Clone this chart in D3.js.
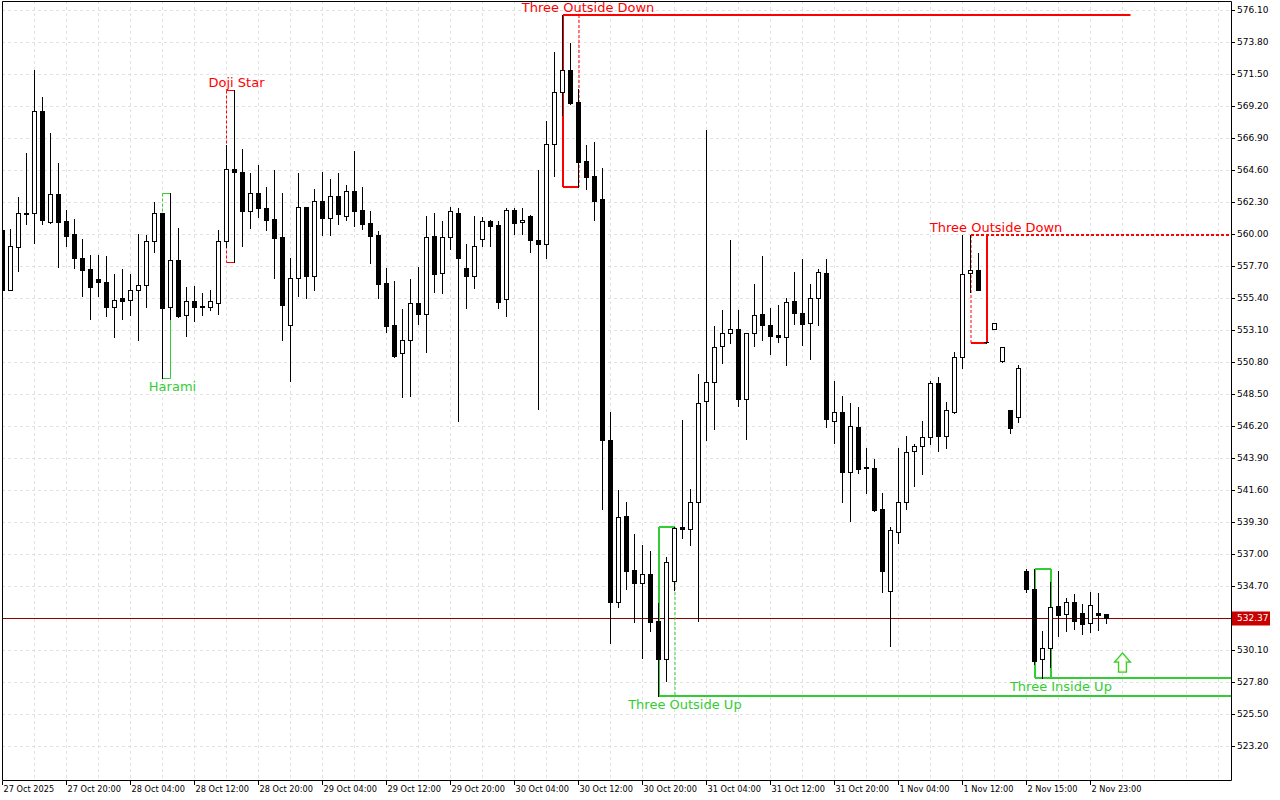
<!DOCTYPE html>
<html><head><meta charset="utf-8">
<script src="https://cdn.jsdelivr.net/npm/d3@7"></script>
<style>
html,body{margin:0;padding:0;background:#fff;}
svg{display:block;}
</style></head>
<body>
<svg id="chart" width="1280" height="800"></svg>
<script>
// ---- DATA ----
const opens = [560.29,555.98,559.09,561.50,561.49,568.84,560.88,562.85,560.93,560.00,
558.25,557.46,556.77,556.53,554.78,555.40,555.24,555.95,556.31,559.48,
561.49,554.78,558.11,554.16,555.16,554.83,554.78,555.06,559.48,564.65,
564.43,561.67,562.93,561.85,561.06,559.78,553.44,556.82,561.92,557.00,
562.35,561.17,562.71,561.27,563.07,561.70,560.77,559.91,556.46,553.44,
551.43,552.36,555.02,554.23,559.83,557.18,559.76,561.49,557.56,557.00,
559.62,560.93,560.63,555.31,561.70,560.84,561.27,559.57,559.25,566.45,
570.19,571.77,569.47,565.25,564.17,562.52,545.19,533.57,539.73,535.85,
534.89,535.54,532.18,529.47,535.08,538.92,538.78,540.72,547.97,549.35,
551.92,552.87,553.16,548.11,552.87,554.23,553.45,552.75,552.58,555.18,
554.31,553.63,555.37,557.23,546.54,547.19,542.86,546.11,543.25,543.16,
540.21,534.36,538.60,540.77,544.37,544.74,545.39,549.28,545.50,547.21,
551.14,557.18,557.41,552.24,553.15,550.89,547.35,546.87,535.80,534.48,
529.43,530.22,533.26,532.67,533.53,532.76,532.02,532.74,532.69];
const highs = [560.43,560.36,562.66,565.80,571.79,569.83,567.24,565.08,561.70,561.08,
559.64,558.49,558.49,558.42,557.13,557.49,557.13,560.00,559.91,562.30,
561.49,562.93,560.41,556.21,556.26,555.74,555.98,560.29,566.40,570.35,
566.09,564.36,564.94,563.40,564.60,562.97,558.28,564.36,561.92,563.21,
564.46,563.95,564.36,563.52,565.97,563.38,561.65,560.22,557.56,556.62,
554.61,556.77,557.63,561.29,561.51,560.93,561.94,561.85,559.28,561.29,
561.22,561.01,560.93,561.85,561.85,561.87,561.34,564.60,568.12,573.10,
575.74,573.75,570.40,566.40,566.59,564.72,547.19,541.60,540.74,538.42,
537.65,537.22,533.46,536.81,538.96,546.63,541.65,549.96,567.48,553.41,
554.54,559.58,554.54,552.87,556.41,558.43,554.70,554.91,555.40,557.27,
558.21,556.41,557.49,558.21,549.44,548.36,547.85,547.57,544.62,543.83,
541.38,538.94,544.60,545.46,544.94,546.54,549.41,549.72,547.90,551.52,
559.93,559.93,558.61,552.24,553.60,551.88,547.35,550.56,535.90,535.92,
531.47,535.01,535.78,533.86,534.13,533.39,534.25,534.18,532.69];
const lows = [555.90,555.95,557.36,560.70,559.33,560.72,560.81,557.65,559.16,557.58,
555.57,553.91,555.57,554.11,552.62,553.91,554.18,552.40,554.78,558.73,
549.63,553.87,554.06,552.69,553.77,554.18,554.54,554.25,559.09,558.01,
559.16,560.45,561.24,560.29,556.87,552.38,549.46,555.57,555.42,556.00,
559.95,559.93,560.74,561.01,560.55,560.34,557.94,555.42,552.98,551.18,
548.31,548.38,553.55,551.50,555.85,555.78,558.94,546.58,554.70,556.14,
559.14,559.14,554.70,554.13,560.00,560.00,558.73,547.40,558.31,564.19,
568.55,569.34,563.38,563.24,561.01,540.23,530.58,533.21,534.46,532.13,
529.55,531.49,526.79,527.89,534.41,538.13,537.65,532.16,545.22,545.95,
550.76,552.17,547.67,545.29,551.97,552.41,551.34,552.27,550.61,553.55,
552.04,551.05,553.43,546.13,545.01,540.71,539.34,542.79,541.36,540.10,
534.24,530.41,537.81,540.20,541.89,542.76,544.94,544.42,544.64,547.11,
550.39,555.85,555.94,552.20,553.14,550.82,545.72,546.47,534.25,529.09,
528.07,528.90,531.13,531.47,531.59,531.27,531.42,531.54,532.06];
const closes = [555.98,559.14,561.49,561.47,568.84,561.01,562.85,560.88,559.88,558.30,
557.43,556.21,556.53,554.78,555.24,555.21,555.95,556.31,559.48,561.49,
554.70,558.11,554.11,555.16,554.78,554.78,555.16,559.48,564.65,564.43,
561.67,562.93,561.85,561.03,559.73,554.92,556.82,561.92,557.00,562.35,
561.17,562.71,561.46,563.07,561.67,560.74,559.88,556.43,553.41,551.23,
552.36,555.02,554.23,559.76,557.15,559.76,561.63,558.30,557.00,559.12,
560.91,560.60,555.13,561.70,560.81,561.01,559.59,559.25,566.45,570.19,
571.77,569.44,565.20,564.12,562.39,545.19,533.57,539.68,535.80,534.89,
535.54,532.13,529.47,536.45,538.85,538.78,540.72,547.84,549.35,551.91,
552.87,553.16,548.11,552.87,554.16,553.45,552.70,552.58,555.11,554.35,
553.55,555.37,557.24,546.70,547.19,542.86,546.19,543.09,543.16,540.19,
535.80,538.69,540.77,544.31,544.74,545.39,549.28,545.50,547.33,551.14,
557.10,557.39,555.98,552.22,553.58,551.86,546.03,550.35,534.46,529.31,
530.22,533.17,532.62,533.53,532.21,531.99,533.31,532.64,532.37];

const priceTicks = [523.20,525.50,527.80,530.10,532.40,534.70,537.00,539.30,541.60,543.90,546.20,548.50,
550.80,553.10,555.40,557.70,560.00,562.30,564.60,566.90,569.20,571.50,573.80,576.10];
const timeLabelIdx = [0,8,16,24,32,40,48,56,64,72,80,88,96,104,112,120,128,136];
const timeLabels = ["27 Oct 2025","27 Oct 20:00","28 Oct 04:00","28 Oct 12:00","28 Oct 20:00",
"29 Oct 04:00","29 Oct 12:00","29 Oct 20:00","30 Oct 04:00","30 Oct 12:00","30 Oct 20:00",
"31 Oct 04:00","31 Oct 12:00","31 Oct 20:00","1 Nov 04:00","1 Nov 12:00","2 Nov 15:00","2 Nov 23:00"];
const bidPrice = 532.37;

const patternNames = ["Harami","Doji Star","Three Outside Down","Three Outside Up","Three Outside Down","Three Inside Up"];
const patternStart = [20,28,70,82,121,129];
const patternEnd   = [21,29,72,84,123,131];
const patternBull  = [true,false,false,true,false,true];
const patternLabelAt = [21.25,29.25,73.2,85.3,124.2,132.3];
const patternLevelTo = [null,null,141,160,160,160];

const arrowIdx = 140;
const arrowPrice = 529.91;

// ---- DRAWING ----
const W = 1280, H = 800;
const plotL = 2, plotR = 1231, plotT = 1, plotB = 780;
const FONT = "DejaVu Sans, Verdana, sans-serif";
const GREEN = "#32cd32", RED = "#ff0000";

const x = d3.scaleLinear().domain([0, 1]).range([2.5, 10.5]);
const y = d3.scaleLinear().domain([523.2, 576.1]).range([746, 10]);
const ry = v => Math.round(y(v));

const svg = d3.select("#chart");
svg.append("rect").attr("width", W).attr("height", H).attr("fill", "#fff");
svg.append("defs").append("clipPath").attr("id", "plotClip")
  .append("rect").attr("x", plotL).attr("y", plotT).attr("width", plotR - plotL).attr("height", plotB - plotT);

const plot = svg.append("g").attr("clip-path", "url(#plotClip)");

// grid
const grid = plot.append("g").attr("stroke", "#e2e2e2").attr("stroke-width", 1).attr("stroke-dasharray", "3,3");
grid.selectAll("line.h").data(priceTicks).join("line").attr("class", "h")
  .attr("x1", plotL).attr("x2", plotR)
  .attr("y1", d => ry(d) + 0.5).attr("y2", d => ry(d) + 0.5);
grid.selectAll("line.v").data(d3.range(0, 156, 4).filter(i => x(i) < plotR)).join("line").attr("class", "v")
  .attr("x1", d => x(d)).attr("x2", d => x(d))
  .attr("y1", plotT).attr("y2", plotB);

// bid line
plot.append("line").attr("x1", plotL).attr("x2", plotR)
  .attr("y1", ry(bidPrice) + 0.5).attr("y2", ry(bidPrice) + 0.5)
  .attr("stroke", "#8c0000").attr("stroke-width", 1);

// patterns
const patternStyle = [
  {w: 1, dash: "left"}, {w: 1, dash: "left"}, {w: 2, dash: "right"},
  {w: 2, dash: "right"}, {w: 2, dash: "left", levelDash: true}, {w: 2, dash: null}
];
const pg = plot.append("g");
const patterns = patternNames.map((name, k) => {
  const s = patternStart[k], e = patternEnd[k];
  const hi = d3.max(highs.slice(s, e + 1)), lo = d3.min(lows.slice(s, e + 1));
  return {name, s, e, hi, lo, bull: patternBull[k], labelAt: patternLabelAt[k], levelTo: patternLevelTo[k], st: patternStyle[k]};
});
patterns.forEach(p => {
  const col = p.bull ? GREEN : RED;
  const w = p.st.w;
  const off = w === 1 ? 0 : 0.5;
  const x1 = x(p.s) + off, x2 = x(p.e) + off;
  const yT = ry(p.hi) + (w === 1 ? 0.5 : 0), yB = ry(p.lo) + (w === 1 ? 0.5 : 0);
  const seg = (ax, ay, bx, by, dashed, sw) => pg.append("line")
    .attr("x1", ax).attr("y1", ay).attr("x2", bx).attr("y2", by)
    .attr("stroke", col).attr("stroke-width", sw)
    .attr("stroke-dasharray", dashed ? "3,2" : null);
  if (!p.st.levelDash) seg(x1, yT, x2, yT, false, w);
  seg(x1, yB, x2, yB, false, w);
  seg(x1, yT, x1, yB, p.st.dash === "left", p.st.dash === "left" ? 1 : w);
  seg(x2, yT, x2, yB, p.st.dash === "right", p.st.dash === "right" ? 1 : w);
  if (p.levelTo !== null) {
    const ly = p.bull ? yB : yT;
    seg(x1, ly, x(p.levelTo), ly, !!p.st.levelDash, 2);
  }
});

// candles
const candles = opens.map((o, i) => ({i, o, h: highs[i], l: lows[i], c: closes[i]}));
const cg = plot.append("g");
const cs = cg.selectAll("g.candle").data(candles).join("g").attr("class", "candle");
cs.append("line")
  .attr("x1", d => x(d.i)).attr("x2", d => x(d.i))
  .attr("y1", d => ry(d.h)).attr("y2", d => ry(d.l) + 1)
  .attr("stroke", "#000").attr("stroke-width", 1);
cs.each(function(d) {
  const g = d3.select(this);
  const top = Math.round(Math.min(y(d.o), y(d.c)));
  const bot = Math.round(Math.max(y(d.o), y(d.c)));
  const cx = x(d.i);
  if (bot - top < 1) {
    g.append("line").attr("x1", cx - 2.5).attr("x2", cx + 2.5)
      .attr("y1", top + 0.5).attr("y2", top + 0.5)
      .attr("stroke", "#000").attr("stroke-width", 1);
  } else {
    g.append("rect").attr("x", cx - 2).attr("y", top + 0.5)
      .attr("width", 4).attr("height", bot - top)
      .attr("fill", d.c >= d.o ? "#fff" : "#000")
      .attr("stroke", "#000").attr("stroke-width", 1);
  }
});

// arrow
const ax = x(arrowIdx), ay = ry(arrowPrice);
plot.append("path")
  .attr("d", `M${ax},${ay} L${ax + 8},${ay + 9} L${ax + 4},${ay + 9} L${ax + 4},${ay + 19} L${ax - 4},${ay + 19} L${ax - 4},${ay + 9} L${ax - 8},${ay + 9} Z`)
  .attr("fill", "#fff").attr("stroke", GREEN).attr("stroke-width", 1.3);
plot.append("path")
  .attr("d", `M${ax},${ay + 2} L${ax + 5.5},${ay + 8} L${ax + 3},${ay + 8} L${ax + 3},${ay + 18} L${ax - 3},${ay + 18} L${ax - 3},${ay + 8} L${ax - 5.5},${ay + 8} Z`)
  .attr("fill", "none").attr("stroke", "#dff09a").attr("stroke-width", 0.8);

// pattern labels
svg.append("g").selectAll("text").data(patterns).join("text")
  .attr("x", d => x(d.labelAt))
  .attr("y", d => d.bull ? ry(d.lo) + 13 : ry(d.hi) - 3)
  .attr("text-anchor", "middle")
  .attr("font-family", FONT).attr("font-size", 13)
  .attr("fill", d => d.bull ? GREEN : RED)
  .text(d => d.name);

// frame
svg.append("path")
  .attr("d", `M${plotL + 0.5},${plotB + 0.5} V${plotT + 0.5} H${plotR + 0.5} V${plotB + 0.5} H${plotL + 0.5}`)
  .attr("fill", "none").attr("stroke", "#000").attr("stroke-width", 1);

// price axis
const yAxis = d3.axisRight(y).tickValues(priceTicks).tickSize(4).tickPadding(2).tickFormat(d3.format(".2f"));
const yg = svg.append("g").attr("transform", `translate(${plotR},0)`).call(yAxis);
yg.select(".domain").remove();
yg.attr("font-family", FONT).attr("font-size", 9);
yg.selectAll("line").attr("stroke", "#000");
yg.selectAll("text").attr("fill", "#000");

// time axis
const xAxis = d3.axisBottom(x).tickValues(timeLabelIdx).tickSize(4).tickPadding(1).offset(0)
  .tickFormat((d, i) => timeLabels[i]);
const xg = svg.append("g").attr("transform", `translate(0,${plotB + 1})`).call(xAxis);
xg.select(".domain").remove();
xg.attr("font-family", FONT).attr("font-size", 8.2);
xg.selectAll("line").attr("stroke", "#000");
xg.selectAll("text").attr("fill", "#000").attr("text-anchor", "start").attr("dx", 1);

// bid label
const by = ry(bidPrice) + 0.5;
svg.append("rect").attr("x", plotR + 1).attr("y", by - 7).attr("width", 38).attr("height", 14).attr("fill", "#c80000");
svg.append("text").attr("x", plotR + 6).attr("y", by).attr("dy", "0.33em")
  .attr("font-family", FONT).attr("font-size", 9).attr("fill", "#fff").text(bidPrice.toFixed(2));
</script>
</body></html>
